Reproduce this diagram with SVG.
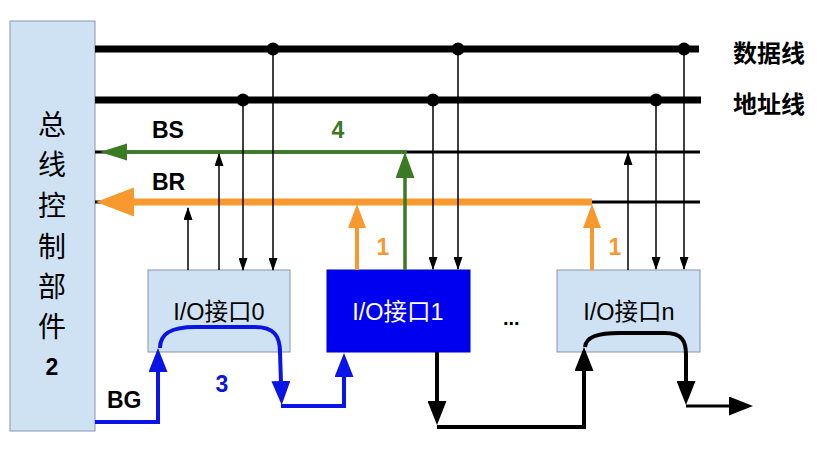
<svg xmlns="http://www.w3.org/2000/svg" width="821" height="451" viewBox="0 0 821 451">
<style>
.lb{fill:#cfe2f3;stroke:#8596a8;stroke-width:1}
.thin{fill:none;stroke:#000;stroke-width:1.5}
.bus{stroke:#000;stroke-width:7}
.ctl{stroke:#000;stroke-width:3}
.bt{font-family:"Liberation Sans",Arial,sans-serif;font-weight:bold;font-size:23px}
.cj{font-family:"Noto Sans CJK SC",sans-serif;font-weight:bold;font-size:24px}
.box{font-family:"Liberation Sans","Noto Sans CJK SC",sans-serif;font-size:23.5px;text-anchor:middle}
</style>
<defs>
<marker id="ah" markerUnits="userSpaceOnUse" viewBox="0 0 13 9" markerWidth="13" markerHeight="9" refX="12" refY="4.5" orient="auto"><path d="M0,0 L13,4.5 L0,9 z" fill="#000"/></marker>
<marker id="bk" markerUnits="userSpaceOnUse" viewBox="0 0 24 19" markerWidth="24" markerHeight="19" refX="2" refY="9.5" orient="auto"><path d="M0,0 L24,9.5 L0,19 z" fill="#000"/></marker>
<marker id="bl" markerUnits="userSpaceOnUse" viewBox="0 0 24 19" markerWidth="24" markerHeight="19" refX="2" refY="9.5" orient="auto"><path d="M0,0 L24,9.5 L0,19 z" fill="#0a14e6"/></marker>
<marker id="or" markerUnits="userSpaceOnUse" viewBox="0 0 24 18" markerWidth="24" markerHeight="18" refX="2" refY="9" orient="auto"><path d="M0,0 L24,9 L0,18 z" fill="#f7992e"/></marker>
<marker id="gr" markerUnits="userSpaceOnUse" viewBox="0 0 26 19" markerWidth="26" markerHeight="19" refX="2" refY="9.5" orient="auto"><path d="M0,0 L26,9.5 L0,19 z" fill="#3a7a22"/></marker>
</defs>

<g id="controller">
<rect class="lb" x="10" y="21" width="85" height="410"/>
<g font-family="'Noto Sans CJK SC',sans-serif" font-size="28" text-anchor="middle">
<text x="52" y="135">总</text>
<text x="52" y="175">线</text>
<text x="52" y="216">控</text>
<text x="52" y="257">制</text>
<text x="52" y="297">部</text>
<text x="52" y="337">件</text>
</g>
<text class="bt" x="52" y="375" text-anchor="middle" font-size="21">2</text>
</g>

<g id="io0">
<rect class="lb" x="148" y="270" width="142" height="82"/>
<text class="box" x="219" y="320">I/O接口0</text>
</g>
<g id="io1">
<rect x="327" y="270" width="143" height="82" fill="#0000f0" stroke="#0000c8" stroke-width="1"/>
<text class="box" x="398" y="320" fill="#fff">I/O接口1</text>
</g>
<g id="ion">
<rect class="lb" x="557" y="270" width="143" height="82"/>
<text class="box" x="629" y="320">I/O接口n</text>
</g>

<g id="connectors">
<line class="bus" x1="95" y1="49" x2="699" y2="49"/>
<line class="bus" x1="95" y1="100" x2="701" y2="100"/>
<g fill="#000">
<circle cx="273" cy="49" r="6.5"/><circle cx="458" cy="49" r="6.5"/><circle cx="684" cy="49" r="6.5"/>
<circle cx="243" cy="100" r="6.5"/><circle cx="433" cy="100" r="6.5"/><circle cx="656" cy="100" r="6.5"/>
</g>
<line class="ctl" x1="95" y1="152" x2="700" y2="152"/>
<line class="ctl" x1="95" y1="202" x2="700" y2="202"/>
<line x1="126" y1="152" x2="407" y2="152" stroke="#3a7a22" stroke-width="3.5"/>
<polygon points="100,152 127,143.5 127,160.5" fill="#3a7a22"/>
<line x1="132" y1="202" x2="592" y2="202" stroke="#f7992e" stroke-width="7"/>
<polygon points="96,202 134,187.5 134,216.5" fill="#f7992e"/>

<line class="thin" x1="273" y1="49" x2="273" y2="270" marker-end="url(#ah)"/>
<line class="thin" x1="243" y1="100" x2="243" y2="270" marker-end="url(#ah)"/>
<line class="thin" x1="219" y1="270" x2="219" y2="154" marker-end="url(#ah)"/>
<line class="thin" x1="188" y1="270" x2="188" y2="208" marker-end="url(#ah)"/>
<line class="thin" x1="433" y1="100" x2="433" y2="269" marker-end="url(#ah)"/>
<line class="thin" x1="458" y1="49" x2="458" y2="269" marker-end="url(#ah)"/>
<line class="thin" x1="628" y1="270" x2="628" y2="153" marker-end="url(#ah)"/>
<line class="thin" x1="656" y1="100" x2="656" y2="269" marker-end="url(#ah)"/>
<line class="thin" x1="684" y1="49" x2="684" y2="269" marker-end="url(#ah)"/>

<line x1="405" y1="270" x2="405" y2="176" stroke="#3a7a22" stroke-width="3.5" marker-end="url(#gr)"/>
<line x1="357" y1="270" x2="357" y2="226" stroke="#f7992e" stroke-width="4" marker-end="url(#or)"/>
<line x1="592" y1="270" x2="592" y2="226" stroke="#f7992e" stroke-width="4" marker-end="url(#or)"/>

<g fill="none" stroke="#0a14e6" stroke-width="4">
<path d="M95,422 H158 V370" marker-end="url(#bl)"/>
<path d="M160,348 C160,333 172,327 195,327 L255,327 C274,327 280,336 280,352 L281,383" marker-end="url(#bl)"/>
<path d="M281,406 H344 V375" marker-end="url(#bl)"/>
</g>
<g fill="none" stroke="#000" stroke-width="4">
<path d="M437,352 V403" marker-end="url(#bk)"/>
<path d="M437,427 H584 V369" marker-end="url(#bk)"/>
<path d="M585,347 C586,337 597,333 620,333 L665,333 C682,333 686,341 686,355 L686,383" marker-end="url(#bk)"/>
<path d="M686,406 H731" stroke-width="3" marker-end="url(#bk)"/>
</g>
</g>

<g id="labels">
<text class="cj" x="733" y="62">数据线</text>
<text class="cj" x="733" y="113">地址线</text>
<text class="bt" x="152" y="138">BS</text>
<text class="bt" x="152" y="190">BR</text>
<text class="bt" x="107" y="408">BG</text>
<text class="bt" x="338" y="138" fill="#3a7a22" text-anchor="middle">4</text>
<text class="bt" x="222" y="392" fill="#0a14e6" text-anchor="middle">3</text>
<text class="bt" x="383" y="255" fill="#f7992e" text-anchor="middle">1</text>
<text class="bt" x="615" y="255" fill="#f7992e" text-anchor="middle">1</text>
<text x="503" y="325" font-family="'Liberation Sans',Arial,sans-serif" font-weight="bold" font-size="20">...</text>
</g>
</svg>
